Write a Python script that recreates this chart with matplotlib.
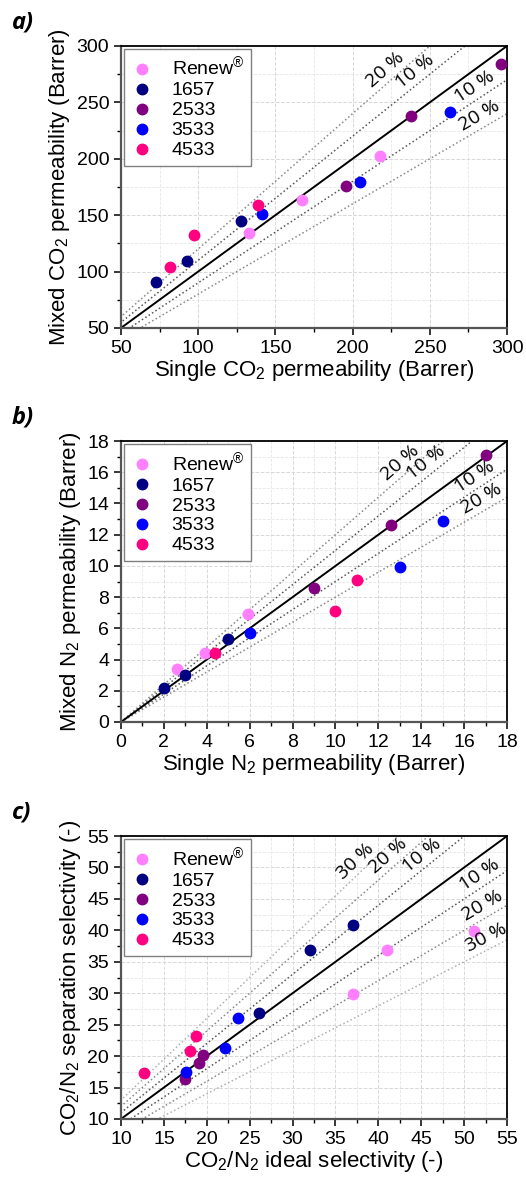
import numpy as np
import matplotlib
matplotlib.use("Agg")
import matplotlib.pyplot as plt
from matplotlib.ticker import MultipleLocator

plt.rcParams['font.family'] = ['Liberation Sans', 'DejaVu Sans']
plt.rcParams['mathtext.fontset'] = 'custom'
plt.rcParams['mathtext.rm'] = 'Liberation Sans'
plt.rcParams['mathtext.it'] = 'Liberation Sans:italic'

# membrane names and colours
names = ['Renew$^{\u00ae}$', '1657', '2533', '3533', '4533']
colors = ['#ff80ff', '#000080', '#800080', '#0000ff', '#ff0080']

# a) CO2 permeability (single, mixed)
a_x = [[133, 167, 218], [73, 93, 128], [196, 238, 296], [141, 205, 263], [82, 97, 139]]
a_y = [[134, 163, 202], [91, 109, 145], [176, 238, 284], [151, 179, 241], [104, 132, 159]]

# b) N2 permeability (single, mixed)
b_x = [[2.6, 3.9, 5.9], [2.0, 3.0, 5.0], [9.0, 12.6, 17.0], [6.0, 13.0, 15.0], [4.4, 10.0, 11.0]]
b_y = [[3.4, 4.4, 6.9], [2.2, 3.0, 5.3], [8.6, 12.6, 17.1], [5.7, 9.9, 12.9], [4.4, 7.1, 9.1]]

# c) selectivity (ideal, separation)
c_x = [[37.0, 41.0, 51.2], [26.1, 32.0, 37.1], [17.5, 19.1, 19.6], [17.6, 22.1, 23.6], [12.7, 18.0, 18.8]]
c_y = [[29.9, 36.9, 39.9], [26.9, 36.9, 40.9], [16.4, 18.9, 20.2], [17.4, 21.3, 26.1], [17.3, 20.8, 23.2]]

# deviation line colours
dev_colors = {10: '#555555', 20: '#888888', 30: '#b0b0b0'}

fig = plt.figure(figsize=(5.26, 11.78), dpi=100)


def draw_panel(rect, xs, ys, lim, major, minor, devs, label_x, xlabel, ylabel, tag):
    ax = fig.add_axes(rect)
    lo, hi = lim
    ax.set_xlim(lo, hi)
    ax.set_ylim(lo, hi)
    ax.xaxis.set_major_locator(MultipleLocator(major))
    ax.yaxis.set_major_locator(MultipleLocator(major))
    ax.xaxis.set_minor_locator(MultipleLocator(minor))
    ax.yaxis.set_minor_locator(MultipleLocator(minor))
    ax.grid(True, which='major', color='#d8d8d8', linestyle='--', linewidth=0.7, zorder=0)
    ax.grid(True, which='minor', color='#e6e6e6', linestyle='--', linewidth=0.6, zorder=0)
    ax.set_axisbelow(True)

    t = np.array([0, hi])
    ax.plot(t, t, color='black', linewidth=1.4, zorder=2)
    for d in devs:
        for f in (1 + d / 100, 1 - d / 100):
            ax.plot(t, f * t, color=dev_colors[d], linestyle=':', linewidth=1.1, zorder=1)

    for i in range(len(names)):
        ax.plot(xs[i], ys[i], 'o', color=colors[i], markersize=7.5, label=names[i],
                linestyle='none', zorder=3)

    fig.canvas.draw()
    for (f, xp) in label_x:
        p1 = ax.transData.transform((lo, f * lo))
        p2 = ax.transData.transform((hi, f * hi))
        ang = np.degrees(np.arctan2(p2[1] - p1[1], p2[0] - p1[0]))
        pct = int(round(abs(f - 1) * 100))
        ax.annotate('%d %%' % pct, (xp, f * xp), xytext=(0, 2.5), textcoords='offset points',
                    rotation=ang, rotation_mode='anchor', ha='center', va='bottom',
                    fontsize=14, family=['Open Sans', 'DejaVu Sans'], zorder=4)

    leg = ax.legend(loc='upper left', fontsize=14, frameon=True, fancybox=False,
                    borderaxespad=0.15, handletextpad=0.9, handlelength=1.2,
                    labelspacing=0.12, borderpad=0.35, framealpha=1)
    leg.get_frame().set_edgecolor('#808080')
    leg.get_frame().set_linewidth(1.0)

    for s in ('left', 'bottom'):
        ax.spines[s].set_color('#555555')
        ax.spines[s].set_linewidth(1.6)
    for s in ('top', 'right'):
        ax.spines[s].set_color('black')
        ax.spines[s].set_linewidth(1.3)
    ax.tick_params(which='major', direction='out', length=5, width=1.1, labelsize=14)
    ax.tick_params(which='minor', direction='out', length=3, width=1.0)
    ax.set_xlabel(xlabel, fontsize=16, labelpad=1)
    ax.set_ylabel(ylabel, fontsize=16, labelpad=3)
    fig.text(0.022, rect[1] + rect[3] + 0.01, tag, fontsize=17, fontweight='bold',
             fontstyle='italic', family=['Open Sans', 'DejaVu Sans'], va='bottom')
    return ax


draw_panel([0.230, 0.7216, 0.734, 0.2394], a_x, a_y, (50, 300), 50, 25, (10, 20),
           [(1.2, 225), (1.1, 244), (0.9, 282), (0.8, 285)],
           'Single CO$_2$ permeability (Barrer)', 'Mixed CO$_2$ permeability (Barrer)', 'a)')

draw_panel([0.230, 0.3871, 0.734, 0.2385], b_x, b_y, (0, 18), 2, 1, (10, 20),
           [(1.2, 13.3), (1.1, 14.5), (0.9, 16.7), (0.8, 17.0)],
           'Single N$_2$ permeability (Barrer)', 'Mixed N$_2$ permeability (Barrer)', 'b)')

draw_panel([0.230, 0.0501, 0.734, 0.2402], c_x, c_y, (10, 55), 5, 2.5, (10, 20, 30),
           [(1.3, 38.0), (1.2, 41.8), (1.1, 45.7), (0.9, 52.4), (0.8, 52.7), (0.7, 53.0)],
           'CO$_2$/N$_2$ ideal selectivity (-)', 'CO$_2$/N$_2$ separation selectivity (-)', 'c)')

fig.savefig('out.png', dpi=100)
